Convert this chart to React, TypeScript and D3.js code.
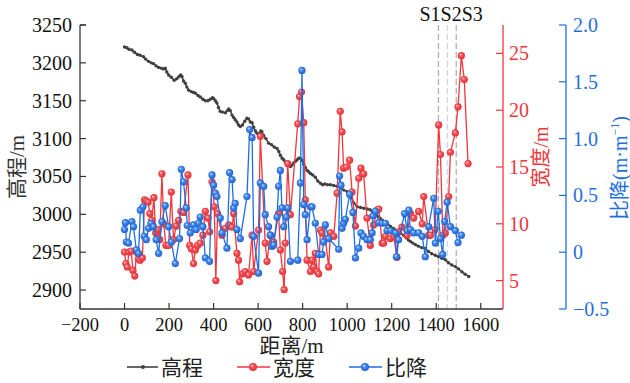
import React from "react";
import * as d3 from "d3";

// ---------- data ----------
const elevDist = [0,10,20,33,45,58,70,85,95,108,120,130,142,153,165,175,183,190,198,210,223,235,245,252,258,265,273,280,288,300,310,318,330,340,352,363,375,385,395,400,408,415,422,430,440,453,462,468,475,483,490,497,505,512,520,530,540,550,557,565,573,580,588,595,605,612,617,625,635,647,660,672,685,693,700,708,715,722,730,738,745,752,760,768,775,782,790,798,805,812,820,828,835,845,857,868,880,890,900,912,925,940,955,970,985,1000,1015,1030,1045,1060,1075,1090,1103,1115,1125,1135,1148,1160,1170,1182,1195,1210,1225,1240,1255,1265,1275,1285,1295,1307,1320,1335,1351,1365,1380,1396,1410,1425,1441,1455,1470,1486,1500,1516,1530,1546];
const elevValue = [3221,3220,3218,3217,3214,3211,3210,3208,3205,3202,3200,3199,3196,3194,3193,3192,3193,3188,3184,3181,3177,3179,3182,3184,3182,3176,3173,3168,3164,3162,3161,3160,3157,3155,3152,3150,3150,3152,3154,3153,3150,3147,3141,3136,3135,3134,3137,3139,3137,3131,3128,3125,3122,3118,3116,3118,3123,3127,3126,3122,3121,3115,3110,3107,3106,3110,3109,3104,3100,3094,3092,3089,3087,3083,3078,3074,3072,3069,3067,3066,3063,3065,3068,3070,3072,3074,3074,3071,3066,3062,3058,3056,3054,3052,3049,3044,3041,3039,3040,3039,3039,3038,3037,3035,3032,3030,3025,3015,3010,3009,3008,3007,3006,3002,2999,2998,2995,2992,2989,2987,2984,2981,2978,2975,2972,2969,2966,2964,2962,2960,2958,2956,2955,2951,2948,2946,2944,2942,2940,2936,2933,2931,2928,2924,2921,2918];

const widthDist = [0,6,12,20,30,38,46,54,62,70,80,90,98,106,114,122,132,140,150,158,168,176,186,198,210,220,232,243,253,265,285,293,300,310,318,328,340,352,363,375,382,393,403,410,418,438,453,468,483,490,505,512,517,530,542,557,573,580,602,610,632,640,655,670,692,700,710,717,722,733,745,778,786,795,805,812,820,835,842,850,857,865,872,880,887,902,917,925,940,955,969,977,984,996,1011,1022,1037,1052,1062,1074,1089,1104,1119,1134,1142,1157,1164,1172,1194,1209,1224,1231,1246,1269,1284,1299,1321,1337,1344,1366,1374,1395,1411,1419,1430,1441,1456,1464,1486,1498,1513,1526,1543];
const widthValue = [7.5,6.5,6.2,7.5,7.6,5.9,5.4,7.5,6.9,6.8,7.0,12.1,12.0,11.9,10.9,10.3,12.3,9.2,9.5,8.6,14.4,10.0,8.1,8.1,12.8,8.6,9.8,10.3,11.1,11.0,14.3,8.1,7.8,6.5,7.7,8.1,8.3,9.0,11.1,10.5,9.3,13.7,11.5,5.0,10.9,9.0,9.6,9.9,9.7,10.9,7.4,6.8,4.9,5.6,5.8,5.5,9.0,5.8,9.45,17.7,8.3,6.7,9.0,8.4,10.9,7.7,5.8,4.2,8.3,15.3,10.8,18.8,21.2,21.6,18.9,12.1,6.8,5.8,6.8,6.2,7.4,5.8,5.6,9.45,9.2,8.7,6.2,9.2,8.9,12.7,19.9,18.1,14.9,15.0,15.6,12.8,9.8,14.0,14.9,14.4,10.5,8.1,9.9,11.2,11.3,8.3,8.3,8.9,8.7,8.9,7.05,9.3,9.7,9.0,10.9,10.5,11.1,10.0,12.4,9.0,9.0,9.5,18.7,16.1,9.0,9.2,12.4,16.3,18.0,20.3,24.8,22.7,15.3];

const slopeDist = [0,4,8,18,33,40,53,63,71,83,88,98,108,119,130,142,153,168,183,198,210,228,247,255,265,277,282,295,310,322,333,340,352,363,382,393,400,408,415,430,438,460,472,483,490,497,505,520,550,562,573,580,602,610,625,632,647,655,662,670,685,692,700,707,715,727,733,745,778,790,797,805,812,820,835,842,857,872,887,894,902,917,962,966,972,977,984,992,1011,1026,1037,1052,1062,1074,1089,1104,1112,1116,1127,1142,1157,1172,1179,1194,1217,1221,1231,1258,1269,1277,1284,1299,1321,1337,1351,1366,1389,1396,1409,1419,1429,1438,1449,1464,1486,1498,1513];
const slopeValue = [0.20,0.26,0.09,0.08,0.27,0.225,0.02,-0.01,0.37,0.40,0.14,0.11,0.21,0.255,0.225,0.11,-0.01,0.27,0.41,0.225,0.09,-0.10,0.12,0.73,0.62,0.39,0.235,0.17,0.24,0.20,0.255,0.31,0.225,-0.05,-0.08,0.68,0.59,0.52,0.49,0.30,0.17,0.035,0.70,0.64,0.39,0.43,0.20,0.12,0.49,1.08,1.01,0.14,-0.185,0.61,0.58,0.33,0.225,0.15,0.05,0.064,0.31,0.58,0.72,0.39,0.225,0.31,0.39,-0.08,-0.07,0.61,1.60,0.42,0.33,0.11,0.40,0.40,0.255,-0.02,-0.02,0.09,0.24,0.12,0.026,0.67,0.59,0.21,0.255,0.29,0.51,0.35,-0.05,0.035,0.17,0.14,0.11,0.11,0.17,0.32,0.36,0.26,0.255,0.255,0.19,0.19,0.17,-0.04,0.11,0.34,0.19,0.37,0.20,0.17,0.17,0.14,-0.04,0.225,0.475,0.08,0.36,0.12,-0.02,0.27,0.44,0.225,0.19,0.085,0.15];

const xTicks = [-200,0,200,400,600,800,1000,1200,1400,1600];
const elevTicks = [2900,2950,3000,3050,3100,3150,3200,3250];
const widthTicks = [5,10,15,20,25];
const slopeTicks = [-0.5,0,0.5,1.0,1.5,2.0];
const slopeTickLabels = ["\u22120.5","0","0.5","1.0","1.5","2.0"];
const sectionDist = [1410,1450,1490];
const sectionLabels = ["S1","S2","S3"];
const legendLabels = ["高程","宽度","比降"];

// ---------- chart ----------
const W = 630, H = 383;
const L = 80, R = 503, T = 25, B = 309;
const BLUE_AX = 566;
const FONT = "'Liberation Serif','Times New Roman','Noto Sans CJK SC',serif";
const RED = "#f0363c";
const BLUE = "#1f6ee0";
const DARK = "#404040";

export default function App() {
  const x = d3.scaleLinear().domain([-200, 1700]).range([L, R]);
  const yE = d3.scaleLinear().domain([2875, 3250]).range([B, T]);
  const yW = d3.scaleLinear().domain([2.5, 27.5]).range([B, T]);
  const yS = d3.scaleLinear().domain([-0.5, 2.0]).range([B, T]);

  const elev = elevDist.map((d, i) => [x(d), yE(elevValue[i])] as [number, number]);
  const wid = widthDist.map((d, i) => [x(d), yW(widthValue[i])] as [number, number]);
  const slo = slopeDist.map((d, i) => [x(d), yS(slopeValue[i])] as [number, number]);
  const line = d3.line();

  const fmt = (v: number) => (v < 0 ? "\u2212" + Math.abs(v) : String(v));

  return (
    <svg width={W} height={H} style={{ position: "absolute", left: 0, top: 0, background: "#fff" }} fontFamily={FONT}>
      <defs>
        <radialGradient id="gRed" cx="0.5" cy="0.5" r="0.55" fx="0.35" fy="0.32">
          <stop offset="0%" stopColor="#ffe3e3" />
          <stop offset="35%" stopColor="#f6585d" />
          <stop offset="100%" stopColor="#de2a31" />
        </radialGradient>
        <radialGradient id="gBlue" cx="0.5" cy="0.5" r="0.55" fx="0.35" fy="0.32">
          <stop offset="0%" stopColor="#dbe9ff" />
          <stop offset="35%" stopColor="#4b8ff0" />
          <stop offset="100%" stopColor="#1659c9" />
        </radialGradient>
      </defs>

      {/* section lines */}
      {sectionDist.map((d, i) => (
        <line key={"s" + i} x1={x(d)} x2={x(d)} y1={T} y2={B}
          stroke={i === 1 ? "#c8dbee" : "#b0b0b0"} strokeWidth={1.3} strokeDasharray="6,3" />
      ))}
      <text x={x(sectionDist[0]) - 19} y={21} fontSize={20} fill="#111">
        {sectionLabels.join("")}
      </text>

      {/* elevation */}
      <path d={line(elev) || ""} fill="none" stroke={DARK} strokeWidth={1.6} />
      {elev.map((p, i) => <circle key={"e" + i} cx={p[0]} cy={p[1]} r={1.7} fill={DARK} />)}

      {/* width */}
      <path d={line(wid) || ""} fill="none" stroke={RED} strokeWidth={1.3} />
      {wid.map((p, i) => <circle key={"w" + i} cx={p[0]} cy={p[1]} r={3.6} fill="url(#gRed)" />)}

      {/* slope */}
      <path d={line(slo) || ""} fill="none" stroke={BLUE} strokeWidth={1.3} />
      {slo.map((p, i) => <circle key={"b" + i} cx={p[0]} cy={p[1]} r={3.6} fill="url(#gBlue)" />)}

      {/* left axis */}
      <line x1={L} x2={L} y1={T} y2={B} stroke="#333" strokeWidth={1.3} />
      {elevTicks.map((t) => (
        <g key={"le" + t}>
          <line x1={L} x2={L + 6} y1={yE(t)} y2={yE(t)} stroke="#333" strokeWidth={1.2} />
          <text x={L - 8} y={yE(t)} fontSize={20} textAnchor="end" dominantBaseline="central" fill="#111">{t}</text>
        </g>
      ))}
      <line x1={L} x2={L + 6} y1={T} y2={T} stroke="#333" strokeWidth={1.2} />
      <text transform={`translate(24,167) rotate(-90)`} fontSize={21} textAnchor="middle" fill="#333">高程/m</text>

      {/* bottom axis */}
      <line x1={L} x2={R} y1={B} y2={B} stroke="#333" strokeWidth={1.3} />
      {xTicks.map((t) => (
        <g key={"x" + t}>
          <line x1={x(t)} x2={x(t)} y1={B} y2={B - 6} stroke="#333" strokeWidth={1.2} />
          <text x={x(t)} y={331} fontSize={18.5} textAnchor="middle" fill="#111">{fmt(t)}</text>
        </g>
      ))}
      <text x={(L + R) / 2} y={353} fontSize={21} textAnchor="middle" fill="#222">距离/m</text>

      {/* red axis */}
      <line x1={R} x2={R} y1={T} y2={B} stroke={RED} strokeWidth={1.3} />
      {widthTicks.map((t) => (
        <g key={"r" + t}>
          <line x1={R - 7} x2={R} y1={yW(t)} y2={yW(t)} stroke={RED} strokeWidth={1.2} />
          <text x={R + 6} y={yW(t)} fontSize={20} dominantBaseline="central" fill={RED}>{t}</text>
        </g>
      ))}
      <text transform={`translate(548,157) rotate(-90)`} fontSize={20} textAnchor="middle" fill={RED}>宽度/m</text>

      {/* blue axis */}
      <line x1={BLUE_AX} x2={BLUE_AX} y1={T} y2={B} stroke={BLUE} strokeWidth={1.3} />
      {slopeTicks.map((t, i) => (
        <g key={"b" + t}>
          <line x1={BLUE_AX - 7} x2={BLUE_AX} y1={yS(t)} y2={yS(t)} stroke={BLUE} strokeWidth={1.2} />
          <text x={BLUE_AX + 7} y={yS(t)} fontSize={20} dominantBaseline="central" fill={BLUE}>{slopeTickLabels[i]}</text>
        </g>
      ))}
      <text transform={`translate(627,168) rotate(-90)`} fontSize={20} textAnchor="middle" fill={BLUE}>
        比降(m·m<tspan fontSize={12} dy={-8}>−1</tspan><tspan dy={8}>)</tspan>
      </text>

      {/* legend */}
      <g>
        <line x1={127} x2={158} y1={367} y2={367} stroke={DARK} strokeWidth={1.6} />
        <circle cx={143} cy={367} r={2} fill={DARK} />
        <text x={161} y={375} fontSize={21} fill="#222">{legendLabels[0]}</text>
        <line x1={237} x2={270} y1={367} y2={367} stroke={RED} strokeWidth={1.5} />
        <circle cx={253} cy={367} r={4} fill="url(#gRed)" />
        <text x={273} y={375} fontSize={21} fill="#222">{legendLabels[1]}</text>
        <line x1={349} x2={382} y1={367} y2={367} stroke={BLUE} strokeWidth={1.5} />
        <circle cx={365} cy={367} r={4} fill="url(#gBlue)" />
        <text x={385} y={375} fontSize={21} fill="#222">{legendLabels[2]}</text>
      </g>
    </svg>
  );
}
